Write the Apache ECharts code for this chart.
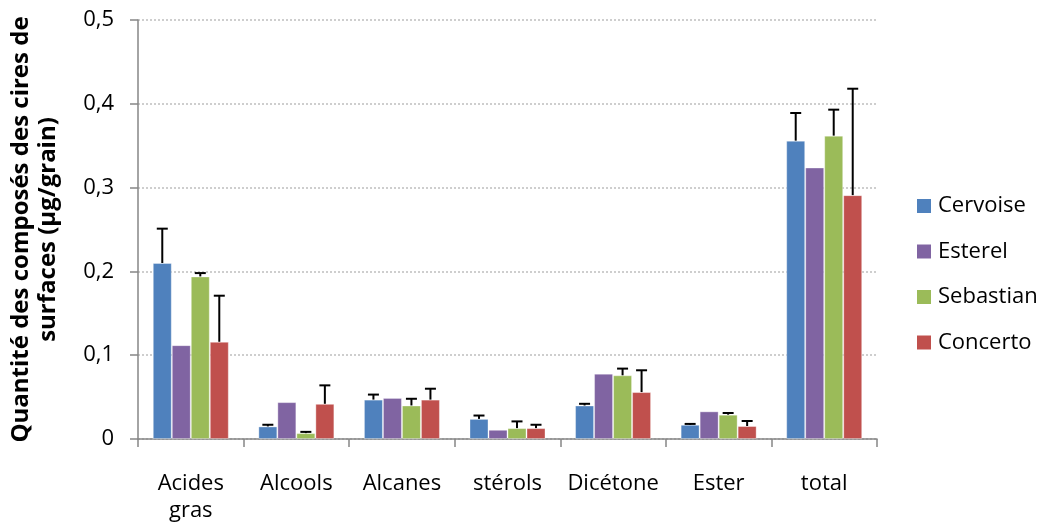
<!DOCTYPE html>
<html>
<head>
<meta charset="utf-8">
<script src="https://cdn.jsdelivr.net/npm/echarts@6/dist/echarts.min.js"></script>
<style>
  html, body { margin: 0; padding: 0; background: #fff; }
  #chart { width: 1041px; height: 524px; }
</style>
</head>
<body>
<div id="chart"></div>
<script>
// catégories et valeurs (µg/grain)
var categories = ['Acides\ngras', 'Alcools', 'Alcanes', 'stérols', 'Dicétone', 'Ester', 'total'];
var seriesNames = ['Cervoise', 'Esterel', 'Sebastian', 'Concerto'];
var colors = ['#4F81BD', '#8064A2', '#9BBB59', '#C0504D'];

var cervoise  = [0.210, 0.015, 0.047, 0.024, 0.040, 0.017, 0.356];
var esterel   = [0.112, 0.044, 0.049, 0.011, 0.078, 0.033, 0.324];
var sebastian = [0.194, 0.007, 0.040, 0.013, 0.076, 0.029, 0.362];
var concerto  = [0.116, 0.042, 0.047, 0.013, 0.056, 0.0155, 0.291];

// écart-types (partie haute seulement)
var cervoiseErr  = [0.041, 0.002, 0.006, 0.004, 0.002, 0.001, 0.033];
var esterelErr   = [0, 0, 0, 0, 0, 0, 0];
var sebastianErr = [0.004, 0.0015, 0.008, 0.008, 0.008, 0.002, 0.031];
var concertoErr  = [0.055, 0.022, 0.013, 0.004, 0.026, 0.006, 0.127];

var yTickLabels = ['0', '0,1', '0,2', '0,3', '0,4', '0,5'];

var values = [cervoise, esterel, sebastian, concerto];
var errors = [cervoiseErr, esterelErr, sebastianErr, concertoErr];

var CAT_GAP = 0.28;
var FONT = '"Open Sans", sans-serif';

var errorBar = function (idx) {
    return function (params, api) {
        var cat = api.value(0);
        var val = api.value(1);
        var err = api.value(2);
        if (!err) {
            return;
        }
        var band = api.size([1, 0])[0];
        var bw = band * (1 - CAT_GAP) / 4;
        var base = api.coord([cat, val]);
        var hi = api.coord([cat, val + err]);
        var x = base[0] - band * (1 - CAT_GAP) / 2 + bw * (idx + 0.5);
        var style = { stroke: '#000', lineWidth: 2 };
        return {
            type: 'group',
            children: [
                { type: 'line', shape: { x1: x, y1: base[1], x2: x, y2: hi[1] }, style: style },
                { type: 'line', shape: { x1: x - 5.5, y1: hi[1], x2: x + 5.5, y2: hi[1] }, style: style }
            ]
        };
    };
};

var series = [];
seriesNames.forEach(function (name, i) {
    series.push({
        name: name,
        type: 'bar',
        barGap: '0%',
        barCategoryGap: (CAT_GAP * 100) + '%',
        itemStyle: { color: colors[i], borderColor: 'rgba(255,255,255,0.35)', borderWidth: 1 },
        data: values[i]
    });
});
seriesNames.forEach(function (name, i) {
    series.push({
        name: name + ' err',
        type: 'custom',
        z: 10,
        silent: true,
        renderItem: errorBar(i),
        encode: { x: 0, y: 1 },
        data: values[i].map(function (v, k) { return [k, v, errors[i][k]]; })
    });
});

var option = {
    animation: false,
    color: colors,
    grid: { left: 137, right: 164, top: 20, bottom: 84 },
    legend: {
        data: seriesNames,
        orient: 'vertical',
        left: 912,
        top: 189,
        icon: 'rect',
        itemWidth: 14,
        itemHeight: 14,
        itemGap: 21.5,
        itemStyle: { borderWidth: 0 },
        textStyle: { fontFamily: FONT, fontSize: 22, color: '#000', lineHeight: 24, padding: [0, 0, 0, 2] }
    },
    xAxis: {
        type: 'category',
        data: categories,
        axisLine: { lineStyle: { color: '#868686', width: 1.5 } },
        axisTick: { show: true, length: 8, lineStyle: { color: '#868686', width: 1.5 } },
        axisLabel: {
            interval: 0,
            margin: 31,
            fontFamily: FONT,
            fontSize: 22,
            lineHeight: 27,
            color: '#000'
        }
    },
    yAxis: {
        type: 'value',
        min: 0,
        max: 0.5,
        interval: 0.1,
        name: 'Quantité des composés des cires de\nsurfaces (µg/grain)',
        nameLocation: 'middle',
        nameGap: 76,
        nameTextStyle: { fontFamily: FONT, fontSize: 24, fontWeight: 'bold', color: '#000', lineHeight: 27 },
        axisLine: { show: true, lineStyle: { color: '#868686', width: 1.5 } },
        axisTick: { show: true, length: 8, lineStyle: { color: '#868686', width: 1.5 } },
        axisLabel: {
            margin: 24,
            fontFamily: FONT,
            fontSize: 22,
            color: '#000',
            formatter: function (v) {
                return yTickLabels[Math.round(v * 10)];
            }
        },
        splitLine: { lineStyle: { color: '#BFBFBF', type: [2, 2], width: 1.5 } }
    },
    series: series
};

var chart = echarts.init(document.getElementById('chart'));
chart.setOption(option);
</script>
</body>
</html>
